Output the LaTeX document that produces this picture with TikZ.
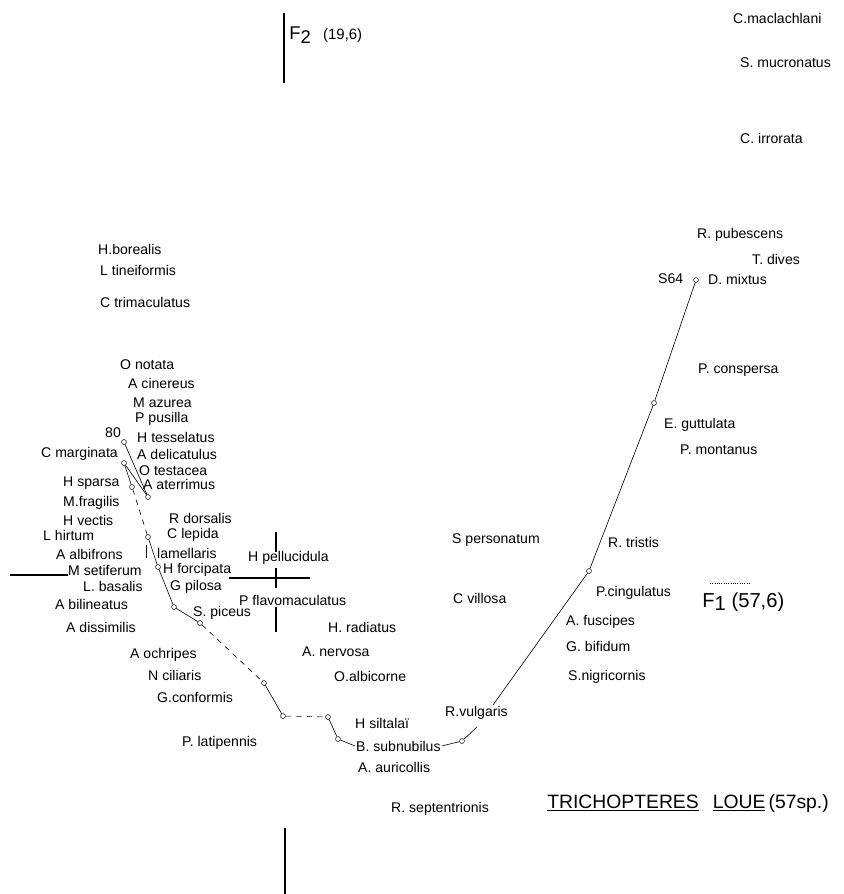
\documentclass[tikz,border=0pt]{standalone}
\usepackage{fontspec}
\setmainfont{Liberation Sans}
\begin{document}
\begin{tikzpicture}[x=0.02cm, y=-0.02cm,
    sp/.style={anchor=west, inner sep=0.5pt, font=\fontsize{8}{9}\selectfont},
    dot/.style={circle, draw, inner sep=0pt, minimum size=2.8pt, line width=0.3pt},
    trace/.style={line width=0.35pt},
    axe/.style={line width=0.9pt}]

        \useasboundingbox (0,0) rectangle (844,894);

        \draw[axe] (284,13) -- (284,83);
        \draw[axe] (285,828) -- (285,894);
        \draw[axe] (10,575) -- (68,575);
        \draw[axe] (229,578) -- (310,578);
        \draw[axe] (276,532) -- (276,552);
        \draw[axe] (276,568) -- (276,588);
        \draw[axe] (276,607) -- (276,632);
        \draw[densely dotted, line width=0.3pt] (710,583) -- (750,583);
        \draw[trace] (146,545) -- (146,558);

        \node[anchor=west, inner sep=0pt] (f2) at (289,35) {\fontsize{10.5}{11}\selectfont F\raisebox{-0.45ex}{2}\hspace{7pt}\fontsize{8.5}{9}\selectfont (19,6)};
        \node[anchor=west, inner sep=0pt] (f1) at (702,602) {\fontsize{11.5}{12}\selectfont F\raisebox{-0.3ex}{1} (57,6)};
        \node[anchor=west, inner sep=0pt] (titre) at (547,803) {\fontsize{11}{12}\selectfont \underline{TRICHOPTERES}\hspace{8pt}\underline{LOUE}\,(57sp.)};

        \node[sp] (cmacl) at (732,18) {C.maclachlani};
        \node[sp] (smucr) at (739,63) {S. mucronatus};
        \node[sp] (cirro) at (739,138) {C. irrorata};
        \node[sp] (rpub) at (696,235) {R. pubescens};
        \node[sp] (tdiv) at (751,259) {T. dives};
        \node[sp] (s64) at (657,279) {S64};
        \node[sp] (dmix) at (707,279) {D. mixtus};
        \node[sp] (pcons) at (697,370) {P. conspersa};
        \node[sp] (eguttu) at (663,425) {E. guttulata};
        \node[sp] (pmont) at (679,450) {P. montanus};
        \node[sp] (rtris) at (607,542) {R. tristis};
        \node[sp] (pcing) at (595,593) {P.cingulatus};
        \node[sp] (afusc) at (565,622) {A. fuscipes};
        \node[sp] (gbif) at (565,646) {G. bifidum};
        \node[sp] (snigr) at (567,677) {S.nigricornis};
        \node[sp] (rvulg) at (444,713) {R.vulgaris};
        \node[sp] (spers) at (451,540) {S personatum};
        \node[sp] (cvil) at (452,598) {C villosa};

        \node[sp] (hbor) at (97,249) {H.borealis};
        \node[sp] (ltine) at (99,270) {L tineiformis};
        \node[sp] (ctrim) at (99,302) {C trimaculatus};

        \node[sp] (onot) at (119,365) {O notata};
        \node[sp] (acin) at (127,383) {A cinereus};
        \node[sp] (mazu) at (132,403) {M azurea};
        \node[sp] (ppus) at (134,419) {P pusilla};
        \node[sp] (n80) at (104,433) {80};
        \node[sp] (htes) at (136,437) {H tesselatus};
        \node[sp] (cmarg) at (40,454) {C marginata};
        \node[sp] (adel) at (136,454) {A delicatulus};
        \node[sp] (otes) at (138,471) {O testacea};
        \node[sp] (hspar) at (62,483) {H sparsa};
        \node[sp] (aater) at (142,484) {A aterrimus};
        \node[sp] (mfrag) at (62,503) {M.fragilis};
        \node[sp] (hvec) at (62,520) {H vectis};
        \node[sp] (rdors) at (168,518) {R dorsalis};
        \node[sp] (lhirt) at (42,535) {L hirtum};
        \node[sp] (clep) at (166,535) {C lepida};
        \node[sp] (aalb) at (55,554) {A albifrons};
        \node[sp] (lamel) at (156,553) {lamellaris};
        \node[sp] (hpell) at (247,558) {H pellucidula};
        \node[sp] (mseti) at (67,570) {M setiferum};
        \node[sp] (hforc) at (162,570) {H forcipata};
        \node[sp] (lbas) at (82,586) {L. basalis};
        \node[sp] (gpil) at (169,587) {G pilosa};
        \node[sp] (pflav) at (238,600) {P flavomaculatus};
        \node[sp] (abil) at (54,604) {A bilineatus};
        \node[sp] (spic) at (192,613) {S. piceus};
        \node[sp] (adiss) at (65,627) {A dissimilis};
        \node[sp] (hrad) at (327,627) {H. radiatus};
        \node[sp] (aochr) at (129,655) {A ochripes};
        \node[sp] (anerv) at (301,652) {A. nervosa};
        \node[sp] (ncil) at (147,675) {N ciliaris};
        \node[sp] (oalb) at (333,676) {O.albicorne};
        \node[sp] (gconf) at (156,697) {G.conformis};
        \node[sp] (hsilt) at (354,723) {H siltala\"{\i}};
        \node[sp] (plati) at (181,743) {P. latipennis};
        \node[sp] (bsub) at (355,746) {B. subnubilus};
        \node[sp] (aauri) at (357,767) {A. auricollis};
        \node[sp] (rsept) at (390,809) {R. septentrionis};

        \node[dot] (p80) at (124,442) {};
        \node[dot] (pc) at (124,463) {};
        \node[dot] (pa) at (148,497) {};
        \node[dot] (pb) at (132,487) {};
        \node[dot] (pd) at (148,537) {};
        \node[dot] (pe) at (158,567) {};
        \node[dot] (pf) at (174,607) {};
        \node[dot] (pg) at (200,623) {};
        \node[dot] (ph) at (264,683) {};
        \node[dot] (pi) at (283,716) {};
        \node[dot] (pj) at (328,717) {};
        \node[dot] (pk) at (338,739) {};

        \node[dot] (q0) at (696,280) {};
        \node[dot] (q1) at (654,403) {};
        \node[dot] (q2) at (589,571) {};
        \node[dot] (q3) at (462,741) {};
        \coordinate (qa) at (493,705);
        \coordinate (qb) at (477,727);

        \draw[trace] (p80) -- (pa);
        \draw[trace] (pc) -- (pa);
        \draw[trace] (pc) -- (pb);
        \draw[trace, dashed] (pb) -- (pd);
        \draw[trace] (pd) -- (pe) -- (pf) -- (pg);
        \draw[trace, dashed] (pg) -- (ph);
        \draw[trace] (ph) -- (pi);
        \draw[trace, dashed] (pi) -- (pj);
        \draw[trace] (pj) -- (pk);
        \draw[trace] (pk) -- (bsub.west);

        \draw[trace] (q0) -- (q1) -- (q2) -- (qa);
        \draw[trace] (qb) -- (q3);
        \draw[trace] (bsub.east) -- (q3);

      \end{tikzpicture}
\end{document}
